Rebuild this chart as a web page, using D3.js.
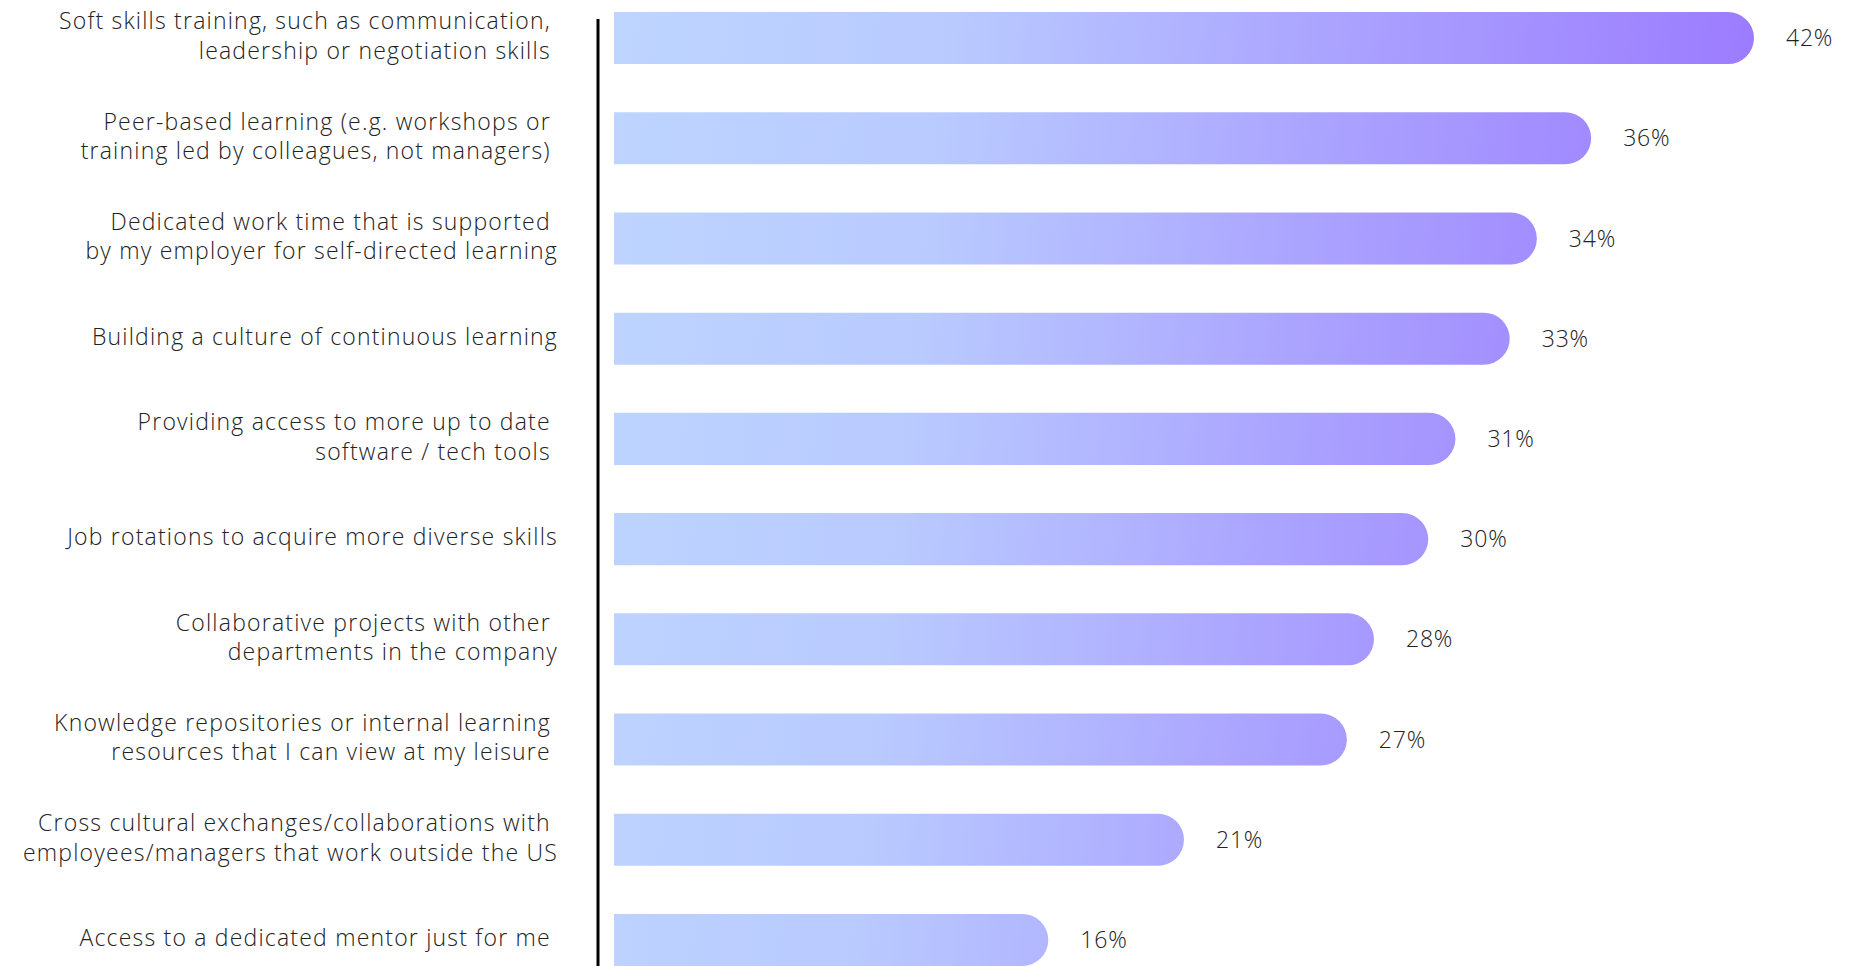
<!DOCTYPE html>
<html>
<head>
<meta charset="utf-8">
<script src="https://cdn.jsdelivr.net/npm/d3@7"></script>
<style>
  html, body { margin: 0; padding: 0; background: #ffffff; }
  svg { display: block; }
  .cat, .val { font-family: "Open Sans", "Lato", sans-serif; font-weight: 300; fill: #222222; }
  .cat { white-space: pre; letter-spacing: 1.2px; }
  .val { letter-spacing: 0.8px; }
</style>
</head>
<body>
<svg id="chart" width="1856" height="966"></svg>
<script>
// Learning & development options, share of respondents (%)
const categories = [
  "Soft skills training, such as communication, \nleadership or negotiation skills ",
  "Peer-based learning (e.g. workshops or \ntraining led by colleagues, not managers) ",
  "Dedicated work time that is supported \nby my employer for self-directed learning",
  "Building a culture of continuous learning",
  "Providing access to more up to date \nsoftware / tech tools ",
  "Job rotations to acquire more diverse skills",
  "Collaborative projects with other \ndepartments in the company",
  "Knowledge repositories or internal learning \nresources that I can view at my leisure ",
  "Cross cultural exchanges/collaborations with \nemployees/managers that work outside the US",
  "Access to a dedicated mentor just for me "
];
const values = [42, 36, 34, 33, 31, 30, 28, 27, 21, 16];
const valueLabels = values.map(v => v + "%");

const W = 1856, H = 966;
const svg = d3.select("#chart");

const x = d3.scaleLinear()
  .domain([0, d3.max(values)])
  .range([614, 1754]);

const y = d3.scaleBand()
  .domain(d3.range(categories.length))
  .range([12, H])
  .paddingInner(0.48)
  .paddingOuter(0);

const bw = y.bandwidth();
const r = bw / 2;

// shared horizontal gradient, light blue to violet
const defs = svg.append("defs");
const grad = defs.append("linearGradient")
  .attr("id", "barGrad")
  .attr("gradientUnits", "userSpaceOnUse")
  .attr("x1", x(0)).attr("y1", 0)
  .attr("x2", x(d3.max(values))).attr("y2", 120);
[[0, "#bed5ff"], [0.3, "#b9caff"], [0.6, "#aca6ff"], [1, "#9b7bff"]]
  .forEach(([o, c]) => grad.append("stop").attr("offset", o).attr("stop-color", c));

// bars: square start, fully rounded end
function barPath(i) {
  const x0 = x(0), x1 = x(values[i]), y0 = y(i);
  return `M${x0},${y0}H${x1 - r}A${r},${r} 0 0 1 ${x1 - r},${y0 + bw}H${x0}Z`;
}

svg.append("g").selectAll("path")
  .data(values)
  .join("path")
  .attr("d", (d, i) => barPath(i))
  .attr("fill", "url(#barGrad)");

// value labels
svg.append("g").selectAll("text")
  .data(values)
  .join("text")
  .attr("class", "val")
  .attr("x", d => x(d) + 32)
  .attr("y", (d, i) => y(i) + bw / 2)
  .attr("dy", "0.35em")
  .attr("font-size", 23)
  .text((d, i) => valueLabels[i]);

// category labels, right aligned, multi-line
const lineH = 29.6;
const cats = svg.append("g").selectAll("text")
  .data(categories)
  .join("text")
  .attr("class", "cat")
  .attr("text-anchor", "end")
  .attr("font-size", 23)
  .attr("transform", (d, i) => `translate(558,${y(i) + bw / 2})`);

cats.each(function (d) {
  const lines = d.split("\n");
  const t = d3.select(this);
  lines.forEach((ln, k) => {
    t.append("tspan")
      .attr("x", 0)
      .attr("y", (k - (lines.length - 1) / 2) * lineH - 2)
      .attr("dy", "0.35em")
      .text(ln);
  });
});

// vertical axis line
svg.append("line")
  .attr("x1", 598).attr("x2", 598)
  .attr("y1", 19).attr("y2", H)
  .attr("stroke", "#000")
  .attr("stroke-width", 3);
</script>
</body>
</html>
